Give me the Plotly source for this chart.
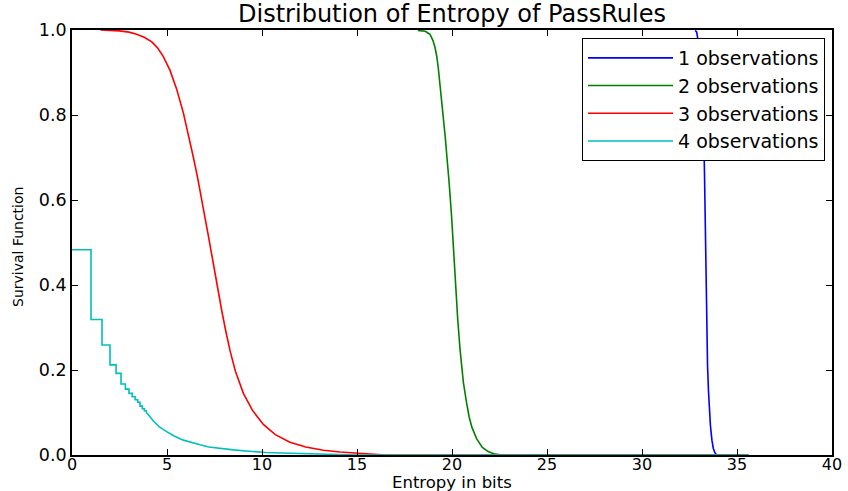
import plotly.graph_objects as go

# ---- data ----
blue_x = [32.8, 32.88, 32.95, 33.05, 33.15, 33.22, 33.26, 33.29, 33.32, 33.36, 33.4, 33.45,
          33.5, 33.54, 33.6, 33.68, 33.75, 33.83, 33.93]
blue_y = [0.999, 0.995, 0.975, 0.925, 0.845, 0.78, 0.73, 0.66, 0.56, 0.43, 0.31, 0.21,
          0.15, 0.11, 0.07, 0.035, 0.016, 0.006, 0.0]

green_x = [18.2, 18.6, 18.84, 19.0, 19.1, 19.19, 19.28, 19.37, 19.46, 19.55, 19.64, 19.72,
           19.85, 19.98, 20.07, 20.16, 20.3, 20.42, 20.6, 20.77, 20.9, 21.05, 21.3, 21.6, 21.9, 22.2,
           22.6, 35.6]
green_y = [0.999, 0.997, 0.99, 0.975, 0.96, 0.94, 0.91, 0.875, 0.835, 0.79, 0.75, 0.71,
           0.64, 0.56, 0.49, 0.42, 0.32, 0.25, 0.17, 0.122, 0.09, 0.065, 0.038, 0.018, 0.008, 0.003,
           0.0, 0.0]

red_x = [1.5, 2.0, 2.5, 3.0, 3.4, 3.8, 4.2, 4.5, 4.8, 5.16, 5.5, 5.86, 6.1, 6.39, 6.6, 6.82, 7.0,
         7.18, 7.44, 7.66, 7.88, 8.1, 8.32, 8.6, 9.02, 9.5, 10.07, 10.7, 11.47, 12.3, 13.23, 14.1,
         14.98, 15.6, 16.5, 35.6]
red_y = [1.0, 0.999, 0.998, 0.995, 0.99, 0.983, 0.972, 0.958, 0.938, 0.905, 0.862, 0.805, 0.76,
         0.70, 0.655, 0.604, 0.562, 0.515, 0.45, 0.393, 0.34, 0.29, 0.245, 0.197, 0.145, 0.105, 0.072,
         0.048, 0.03, 0.019, 0.011, 0.007, 0.004, 0.002, 0.0, 0.0]

cyan_x = [0, 1.0, 1.0, 1.58, 1.58, 2.0, 2.0, 2.32, 2.32, 2.58, 2.58, 2.81, 2.81, 3.0, 3.0, 3.17, 3.17,
          3.32, 3.32, 3.46, 3.46, 3.58, 3.58, 3.7, 3.7, 3.81, 3.81, 3.91, 3.91, 4.0, 4.28, 4.6, 4.98,
          5.4, 5.86, 6.3, 6.74, 7.2, 7.7, 8.5, 9.3, 10.2, 11.5, 13.0, 15.0, 35.6]
cyan_y = [0.483, 0.483, 0.319, 0.319, 0.259, 0.259, 0.212, 0.212, 0.192, 0.192, 0.167, 0.167, 0.155,
          0.155, 0.145, 0.145, 0.137, 0.137, 0.13, 0.13, 0.124, 0.124, 0.115, 0.115, 0.109, 0.109,
          0.104, 0.104, 0.1, 0.096, 0.08, 0.066, 0.055, 0.044, 0.035, 0.029, 0.024, 0.019, 0.016,
          0.012, 0.009, 0.006, 0.004, 0.002, 0.0, 0.0]

series_names = ["1 observations", "2 observations", "3 observations", "4 observations"]
series_colors = ["#0000ff", "#008000", "#ff0000", "#00bfbf"]

x_ticks = [0, 5, 10, 15, 20, 25, 30, 35, 40]
y_ticks = [0.0, 0.2, 0.4, 0.6, 0.8, 1.0]

FONT = "DejaVu Sans"
L, R, T, B = 72, 832, 30, 455
W, H = 848, 491

fig = go.Figure()
for xs, ys, name, col in zip([blue_x, green_x, red_x, cyan_x], [blue_y, green_y, red_y, cyan_y],
                             series_names, series_colors):
    fig.add_trace(go.Scatter(x=xs, y=ys, mode="lines", name=name,
                             line=dict(color=col, width=1.6)))

axis_common = dict(showline=True, linecolor="black", linewidth=1.8, mirror="allticks",
                   ticks="inside", ticklen=6, tickwidth=1, tickcolor="black",
                   showgrid=False, zeroline=False, automargin=False, layer="above traces")

fig.update_layout(
    width=W, height=H,
    margin=dict(l=L, r=W - R, t=T, b=H - B),
    paper_bgcolor="white", plot_bgcolor="white",
    title=dict(text="Distribution of Entropy of PassRules", x=452 / W, xanchor="center",
               y=1 - 14 / H, yanchor="middle",
               font=dict(family=FONT, size=24, color="black")),
    xaxis=dict(range=[0, 40], tickvals=x_ticks, ticktext=[str(v) for v in x_ticks],
               ticklabelstandoff=-6, tickfont=dict(family=FONT, size=16, color="black"),
               **axis_common),
    yaxis=dict(range=[0, 1.0], tickvals=y_ticks, ticktext=["%.1f" % v for v in y_ticks],
               tickfont=dict(family=FONT, size=17.5, color="black"), **axis_common),
    legend=dict(x=(825 - L) / (R - L), y=(B - 38) / (B - T), xanchor="right", yanchor="top",
                bgcolor="white", bordercolor="black", borderwidth=1,
                font=dict(family=FONT, size=19, color="black"),
                tracegroupgap=0, itemwidth=85),
    showlegend=True,
    annotations=[
        dict(text="Entropy in bits", xref="paper", yref="paper",
             x=0.5, y=(B - 482) / (B - T), xanchor="center", yanchor="middle", showarrow=False,
             font=dict(family=FONT, size=16.5, color="black")),
        dict(text="Survival Function", xref="paper", yref="paper", textangle=-90,
             x=(18 - L) / (R - L), y=(B - 247) / (B - T), xanchor="center", yanchor="middle",
             showarrow=False, font=dict(family=FONT, size=14, color="black")),
    ],
)

fig.write_html("out.html", config={"displayModeBar": False},
               post_script="document.body.style.margin='0px';")
